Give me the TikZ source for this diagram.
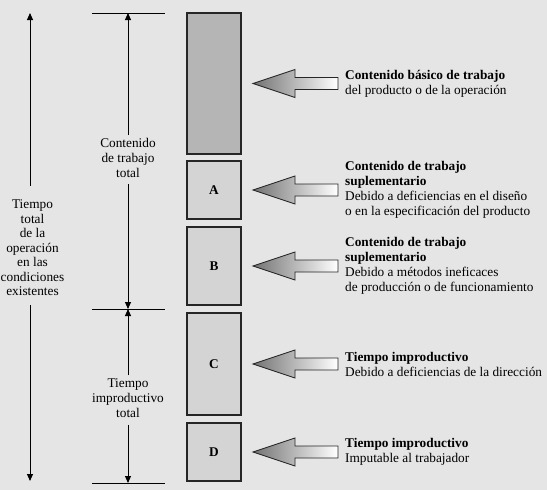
\documentclass[tikz,border=0pt]{standalone}
\usepackage{fontspec}
\setmainfont{Liberation Serif}
\usetikzlibrary{arrows.meta}

\begin{document}
\begin{tikzpicture}[x=1pt,y=-1pt,
    font=\fontsize{13.3}{15}\selectfont,
    box/.style={draw=black!85,line width=1.3pt,fill=black!17,minimum width=54pt,inner sep=0pt,
      font=\fontsize{13.3}{15}\selectfont\bfseries},
    lbl/.style={align=center,inner sep=3pt},
    note/.style={align=left,anchor=west,inner sep=0pt},
    dim/.style={line width=0.9pt,-{Triangle[length=7pt,width=6pt]}},
    bar/.style={line width=0.9pt},
    blockarrow/.style={draw=black!85,line width=0.9pt,left color=black!55,right color=white}]

    \useasboundingbox (0,0) rectangle (547,490);
    \fill[black!10] (0,0) rectangle (547,490);

    % boxes
    \node[box,fill=black!29,minimum height=141pt] (b0) at (214,83.5) {};
    \node[box,minimum height=58pt] (bA) at (214,190) {A};
    \node[box,minimum height=78pt] (bB) at (214,266) {B};
    \node[box,minimum height=102pt] (bC) at (214,364) {C};
    \node[box,minimum height=58pt] (bD) at (214,452) {D};

    % notes
    \node[note] (n0) at (345,83.5) {\textbf{Contenido básico de trabajo}\\del producto o de la operación};
    \node[note] (nA) at (345,190) {\textbf{Contenido de trabajo}\\\textbf{suplementario}\\Debido a deficiencias en el diseño\\o en la especificación del producto};
    \node[note] (nB) at (345,266) {\textbf{Contenido de trabajo}\\\textbf{suplementario}\\Debido a métodos ineficaces\\de producción o de funcionamiento};
    \node[note] (nC) at (345,364) {\textbf{Tiempo improductivo}\\Debido a deficiencias de la dirección};
    \node[note] (nD) at (345,452) {\textbf{Tiempo improductivo}\\Imputable al trabajador};

    % block arrows
    \foreach \n in {n0,nA,nB,nC,nD}
      \path[blockarrow] ([xshift=-7pt,yshift=6pt]\n.west) -- ([xshift=-50pt,yshift=6pt]\n.west)
        -- ([xshift=-50pt,yshift=14pt]\n.west) -- ([xshift=-92pt]\n.west)
        -- ([xshift=-50pt,yshift=-14pt]\n.west) -- ([xshift=-50pt,yshift=-6pt]\n.west)
        -- ([xshift=-7pt,yshift=-6pt]\n.west) -- cycle;

    % total time
    \node[lbl,font=\fontsize{13.3}{14.5}\selectfont] (tot) at (32.5,248) {Tiempo\\total\\de la\\operación\\en las\\condiciones\\existentes};
    \coordinate (ltop) at (30,13);
    \coordinate (lbot) at (30,481);
    \draw[dim,shorten <=11pt] (tot.north -| ltop) -- (ltop);
    \draw[dim,shorten <=6pt] (tot.south -| lbot) -- (lbot);

    % work content and ineffective time
    \coordinate (m1) at (128,13);
    \coordinate (m2) at (128,309);
    \coordinate (m3) at (128,483);
    \draw[bar] ([xshift=-36pt]m1) -- ([xshift=37pt]m1);
    \draw[bar] ([xshift=-36pt]m2) -- ([xshift=37pt]m2);
    \draw[bar] ([xshift=-36pt]m3) -- ([xshift=37pt]m3);
    \node[lbl] (ct) at (128,158) {Contenido\\de trabajo\\total};
    \draw[dim] (ct) -- (m1);
    \draw[dim,shorten <=3pt] (ct) -- (m2);
    \node[lbl] (it) at (128,398) {Tiempo\\improductivo\\total};
    \draw[dim] (it) -- (m2);
    \draw[dim,shorten <=4pt] (it) -- (m3);
\end{tikzpicture}
\end{document}
